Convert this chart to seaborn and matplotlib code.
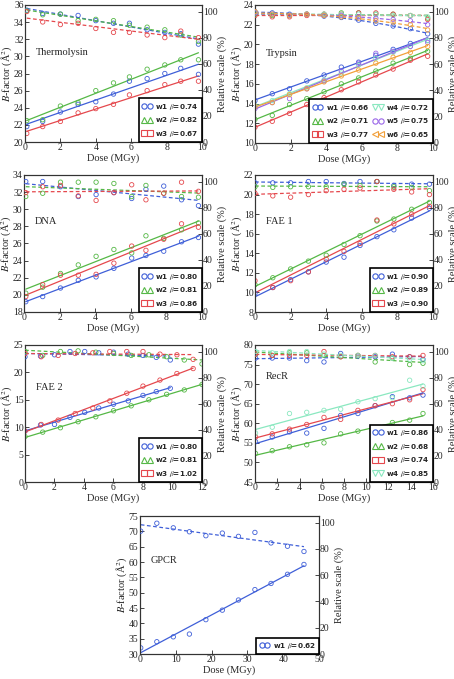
import matplotlib
matplotlib.use("Agg")
import matplotlib.pyplot as plt
from matplotlib.lines import Line2D
import seaborn as sns

# %% data
thermo_dose = [0.1, 1.0, 2.0, 3.0, 4.0, 5.0, 5.9, 6.9, 7.9, 8.8, 9.8]
thermo_bfac = [[21.8, 22.4, 23.5, 24.4, 24.7, 25.6, 27.1, 27.4, 28.0, 28.6, 27.9],
               [22.5, 22.6, 24.2, 24.6, 26.0, 26.9, 27.6, 28.5, 29.0, 29.6, 29.6],
               [21.0, 21.8, 22.4, 23.4, 23.9, 24.4, 25.5, 26.0, 26.7, 27.1, 27.1]]
thermo_scale = [[101, 98.5, 98, 97, 93, 91, 91, 86, 84, 83, 75],
                [100.5, 97.5, 98, 93, 94, 93, 89.5, 88, 86, 82, 77],
                [100, 92, 90, 91, 87, 84, 84, 82, 80, 85, 80]]
thermo_beta = [0.74, 0.82, 0.67]

tryp_dose = [0, 0.97, 1.94, 2.91, 3.88, 4.85, 5.82, 6.79, 7.76, 8.73, 9.7]
tryp_bfac = [[14.3, 15.0, 15.5, 16.3, 16.9, 17.7, 18.2, 18.9, 19.5, 20.1, 20.4],
             [12.4, 12.8, 13.9, 14.5, 15.2, 16.0, 16.6, 17.3, 18.1, 18.6, 19.3],
             [11.6, 12.2, 13.0, 13.9, 14.6, 15.4, 16.2, 16.9, 17.5, 18.4, 18.8],
             [13.8, 14.3, 15.0, 15.6, 16.4, 17.1, 17.9, 18.6, 19.2, 19.8, 20.4],
             [13.5, 14.1, 14.5, 15.5, 16.3, 17.3, 18.1, 19.1, 19.3, 19.8, 20.2],
             [13.7, 14.1, 14.9, 15.5, 16.2, 16.8, 17.4, 18.1, 18.7, 19.2, 19.8]]
tryp_scale = [[100, 99, 98, 98, 96.5, 95.5, 93.5, 91, 89, 87, 83],
              [98, 97, 97, 98, 98, 99, 99, 98, 98, 97, 95],
              [97, 96, 96, 97, 98, 98, 99, 99, 98, 97, 94],
              [99, 98, 97, 98, 98, 98, 98, 98, 97, 97, 96],
              [99, 98, 97, 98, 97, 97, 96, 95, 94, 93, 90],
              [100, 98, 97, 98, 97, 96, 95, 93, 92, 90, 86]]
tryp_beta = [0.66, 0.71, 0.77, 0.72, 0.75, 0.65]

dna_dose = [0.1, 1.05, 2.05, 3.05, 4.05, 5.05, 6.05, 6.85, 7.85, 8.85, 9.8]
dna_bfac = [[19.2, 19.8, 20.8, 21.7, 22.1, 23.1, 24.3, 24.6, 25.1, 26.2, 26.7],
            [20.2, 20.9, 22.5, 23.5, 24.5, 25.3, 24.9, 26.9, 26.6, 27.6, 28.4],
            [19.8, 21.2, 22.3, 22.3, 22.4, 23.7, 25.7, 25.2, 26.5, 28.3, 27.9]]
dna_scale = [[100, 100, 96, 88.5, 90, 91.5, 87, 94, 96.5, 86, 81.5],
             [88.5, 91, 99.5, 99.5, 99.5, 98.5, 88.5, 97, 91, 88.5, 88],
             [91.5, 96, 97, 89, 85.5, 91.5, 97.5, 86, 91, 99.5, 92.5]]
dna_beta = [0.80, 0.81, 0.86]

fae1_dose = [0, 1, 2, 3, 4, 5, 5.9, 6.85, 7.8, 8.8, 9.8]
fae1_bfac = [[9.9, 10.5, 11.3, 12.1, 13.1, 13.6, 14.8, 15.7, 16.4, 17.6, 18.6],
             [10.8, 11.5, 12.4, 13.2, 13.8, 14.9, 15.8, 17.3, 17.5, 18.5, 19.2],
             [11.2, 10.5, 11.2, 12.1, 13.4, 14.2, 15.0, 17.4, 17.0, 18.0, 18.8]]
fae1_scale = [[99, 99, 99, 100, 100, 98.5, 100, 100, 97, 98, 98],
              [96, 95.5, 96, 96, 96, 98, 97, 100, 96, 95.5, 93],
              [91, 89, 88, 90, 93, 94, 95, 100, 94, 92, 90]]
fae1_beta = [0.90, 0.89, 0.90]

fae2_dose = [[0, 1.05, 2.0, 3.05, 4.05, 5.0, 6.0, 7.0, 8.0, 8.9, 9.85],
             [0, 1.2, 2.4, 3.6, 4.8, 6.0, 7.2, 8.4, 9.6, 10.8, 12.0],
             [0, 1.1, 2.25, 3.4, 4.6, 5.75, 6.9, 8.0, 9.15, 10.3, 11.4]]
fae2_bfac = [[9.3, 10.4, 10.5, 11.8, 12.7, 13.5, 14.2, 14.8, 15.8, 16.5, 17.1],
             [8.3, 9.1, 9.9, 11.0, 11.9, 13.0, 13.9, 15.0, 16.0, 16.8, 17.8],
             [9.3, 10.5, 11.3, 12.5, 13.5, 14.8, 16.2, 17.5, 18.6, 19.8, 20.7]]
fae2_scale = [[96, 96.5, 97.5, 100, 100, 99, 99.5, 98, 97, 95.5, 93.5],
              [100, 97, 100, 100.5, 99.5, 98.5, 97, 97.5, 96, 93.5, 90.5],
              [98.5, 96, 97, 98.5, 99, 100, 100, 100, 98, 97.5, 94]]
fae2_beta = [0.80, 0.81, 1.02]

recr_dose = [0.05, 1.55, 3.1, 4.65, 6.2, 7.7, 9.25, 10.8, 12.35, 13.9, 15.1]
recr_bfac = [[55.3, 56.5, 57.8, 57.5, 58.7, 62.0, 62.5, 64.5, 66.8, 66.5, 67.2],
             [52.3, 53.0, 54.0, 54.5, 55.0, 57.3, 58.0, 58.7, 60.2, 60.8, 62.5],
             [56.5, 57.3, 58.5, 59.7, 61.5, 61.0, 63.3, 64.5, 65.0, 66.0, 68.6],
             [57.5, 59.0, 62.5, 62.8, 63.3, 63.6, 65.5, 66.3, 66.5, 71.0, 69.5]]
recr_scale = [[95, 95, 95, 93, 92, 98.5, 96.5, 96, 98, 96, 94],
              [98, 97, 99, 99, 97, 96, 97, 92, 95, 90, 91],
              [98, 97, 97, 97, 100, 96, 97, 97, 96, 96, 97],
              [100, 99, 100, 100, 98, 97, 97, 97, 95, 94, 93]]
recr_beta = [0.86, 0.68, 0.74, 0.85]

gpcr_dose = [0.2, 4.7, 9.3, 13.8, 18.4, 23.0, 27.5, 32.1, 36.6, 41.2, 45.8]
gpcr_bfac = [[32.0, 34.0, 35.6, 36.5, 41.2, 44.3, 47.6, 51.0, 53.0, 56.0, 59.2]]
gpcr_scale = [[93.5, 99.5, 96, 93, 90, 92, 89.5, 92.5, 84.5, 82, 78]]
gpcr_beta = [0.62]

# %% style
sns.set_style("ticks")
plt.rcParams['font.family'] = ['Liberation Serif', 'DejaVu Serif']
plt.rcParams['mathtext.fontset'] = 'stix'

colors = ['#3f5fd8', '#55b846', '#e5484d', '#8ae8c0', '#9a66e8', '#f2a03a']
markers = ['o', '^', 's', 'v', 'o', '<']
W, H = 454, 679


def panel(box, name, dose, bfac, scale, beta, ylim, yticks, xlim, xticks,
          label_y, curved=(), ncol=1):
    l, t, r, b = box
    ax = fig.add_axes([l / W, 1 - b / H, (r - l) / W, (b - t) / H])
    ax2 = ax.twinx()
    handles = []
    for i in range(len(bfac)):
        x = dose[i] if isinstance(dose[0], list) else dose
        c, m = colors[i], markers[i]
        pts = dict(marker=m, facecolors='none', edgecolors=c, s=10,
                   linewidths=0.6, alpha=1, zorder=3)
        sns.regplot(x=x, y=bfac[i], ax=ax, ci=None, color=c,
                    scatter_kws=pts, line_kws=dict(lw=0.9))
        sns.regplot(x=x, y=scale[i], ax=ax2, ci=None, color=c,
                    order=2 if i in curved else 1,
                    scatter_kws=pts, line_kws=dict(lw=0.9, ls='--', dashes=(3, 2)))
        handles.append(Line2D([], [], ls='none', marker=m, mfc='none', mec=c,
                              ms=3.8, mew=0.8,
                              label=r'w%d $\beta$=%.2f' % (i + 1, beta[i])))
    ax.set_xlim(xlim)
    ax.set_ylim(ylim)
    ax.set_xticks(xticks)
    ax.set_yticks(yticks)
    ax2.set_ylim(0, 105)
    ax2.set_yticks(range(0, 101, 20))
    for a in (ax, ax2):
        a.tick_params(direction='in', length=3, width=0.6, labelsize=7, pad=1)
        for s in a.spines.values():
            s.set_linewidth(0.8)
            s.set_color('#333333')
    ax2.tick_params(pad=0.5)
    ax.set_xlabel('Dose (MGy)', fontsize=7.5, labelpad=0.5)
    ax.set_ylabel(r'$B$-factor (Å$^2$)', fontsize=7.5, labelpad=0)
    ax2.set_ylabel('Relative scale (%)', fontsize=7.5, labelpad=0)
    ax.text(0.06, label_y, name, transform=ax.transAxes, fontsize=7.5,
            va='center', ha='left')
    leg = ax2.legend(handles=handles, loc='lower right', ncol=ncol,
                     numpoints=2, borderaxespad=0, fancybox=False,
                     framealpha=1, edgecolor='black', handlelength=1.4,
                     handletextpad=0.4, labelspacing=0.5, columnspacing=0.6,
                     borderpad=0.45,
                     prop=dict(family='DejaVu Sans', weight='bold', size=5.2))
    leg.get_frame().set_linewidth(1.2)
    return ax


# %% figure
fig = plt.figure(figsize=(W / 100, H / 100), dpi=100)

panel((25, 5, 202, 142), 'Thermolysin', thermo_dose, thermo_bfac, thermo_scale,
      thermo_beta, (20, 36), range(20, 37, 2), (0, 10), range(0, 11, 2), 0.65)
panel((255, 5, 433, 143), 'Trypsin', tryp_dose, tryp_bfac, tryp_scale,
      tryp_beta, (10, 24), range(10, 25, 2), (0, 10), range(0, 11, 2), 0.65,
      curved=(0, 4, 5), ncol=2)
panel((24, 175, 202, 312), 'DNA', dna_dose, dna_bfac, dna_scale,
      dna_beta, (18, 34), range(18, 35, 2), (0, 10), range(0, 11, 2), 0.66)
panel((255, 175, 433, 312), 'FAE 1', fae1_dose, fae1_bfac, fae1_scale,
      fae1_beta, (8, 22), range(8, 23, 2), (0, 10), range(0, 11, 2), 0.66)
panel((25, 345, 202, 482), 'FAE 2', fae2_dose, fae2_bfac, fae2_scale,
      fae2_beta, (0, 25), range(0, 26, 5), (0, 12), range(0, 13, 2), 0.69)
panel((255, 345, 433, 482), 'RecR', recr_dose, recr_bfac, recr_scale,
      recr_beta, (45, 80), range(45, 81, 5), (0, 16), range(0, 17, 2), 0.77)
panel((140, 516, 319, 654), 'GPCR', gpcr_dose, gpcr_bfac, gpcr_scale,
      gpcr_beta, (30, 75), range(30, 76, 5), (0, 50), range(0, 51, 10), 0.68)

fig.savefig('out.png', dpi=100)
